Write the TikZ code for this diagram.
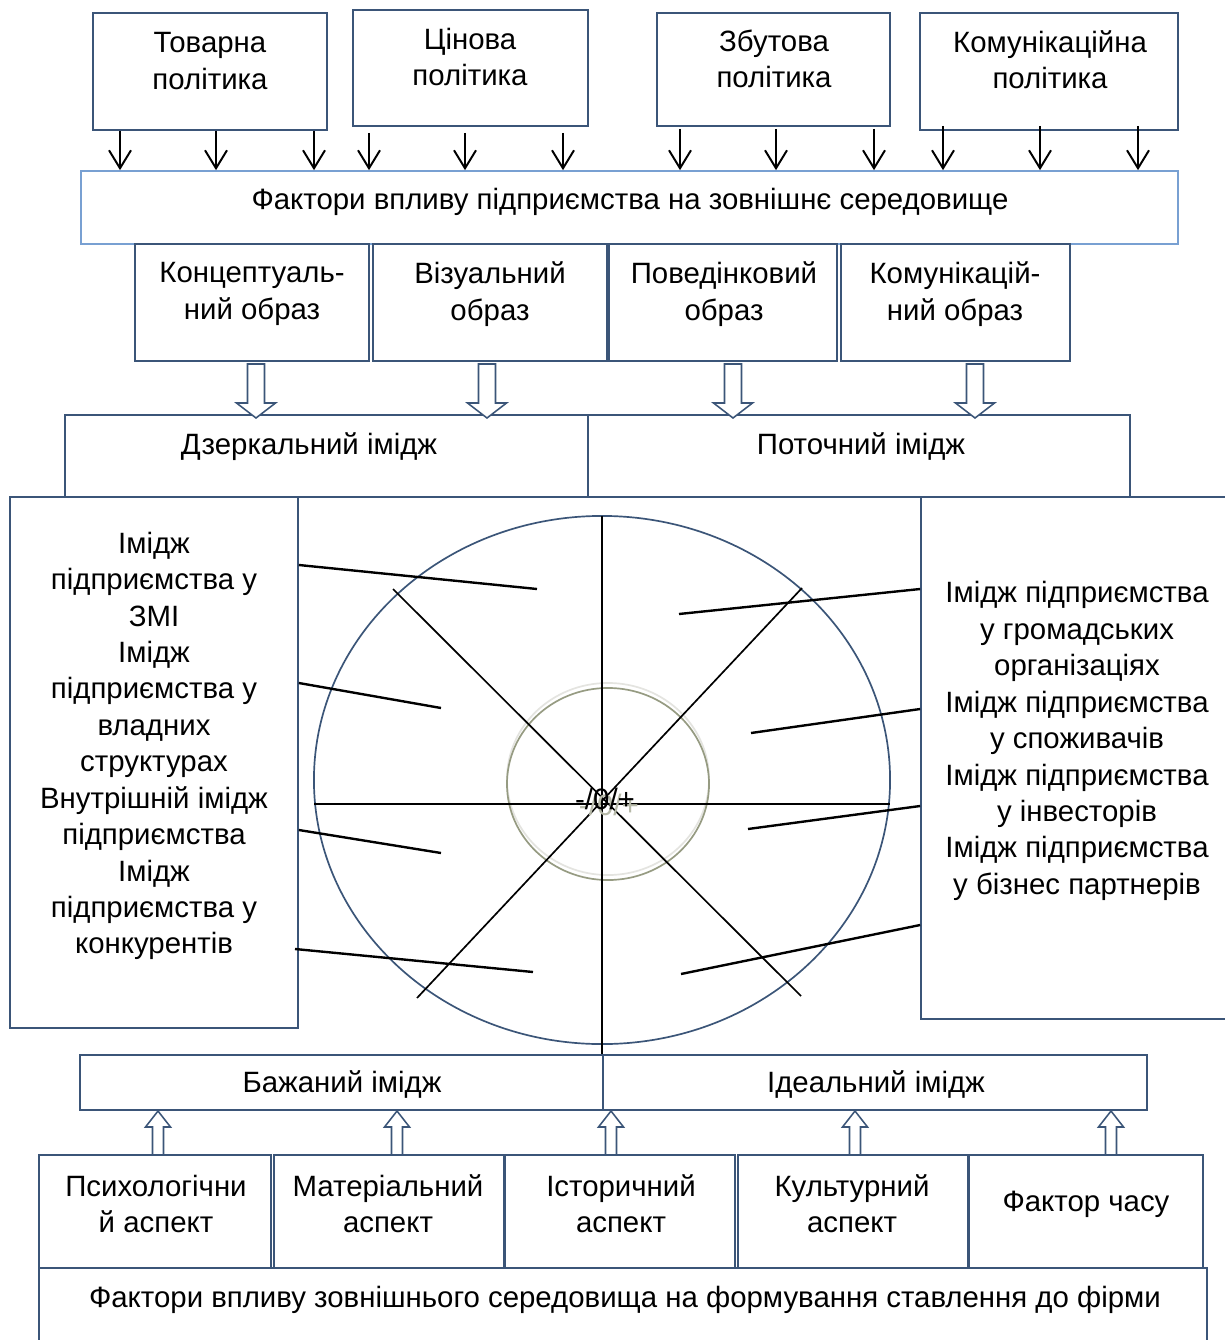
\documentclass[tikz,border=0pt]{standalone}
\usepackage{fontspec}
\setmainfont{Liberation Sans}
\usetikzlibrary{arrows.meta,fit,calc}
\definecolor{bx}{RGB}{59,85,120}
\definecolor{lbl}{RGB}{120,160,210}
\definecolor{olv}{RGB}{150,155,130}
\definecolor{lgr}{RGB}{228,228,224}
\tikzset{
  box/.style={draw=bx, line width=1.2pt, inner sep=0pt},
  txt/.style={align=center, inner sep=0pt, font=\fontsize{20.9}{25.9}\selectfont},
  tarr/.style={line width=1.4pt, -{Straight Barb[length=0.45cm,width=0.55cm,line width=1.4pt]}},
  lnk/.style={line width=1.7pt},
  axl/.style={line width=1.2pt},
  dnblk/.pic={\draw[bx, line width=1.1pt, fill=white] (-8.5,0) -- (-8.5,39) -- (-19.5,39) -- (0,54) -- (19.5,39) -- (8.5,39) -- (8.5,0) -- cycle;},
  upblk/.pic={\draw[bx, line width=1.1pt, fill=white] (-5.5,0) -- (-5.5,-28) -- (-12.5,-28) -- (0,-44) -- (12.5,-28) -- (5.5,-28) -- (5.5,0) -- cycle;}
}
\begin{document}
\begin{tikzpicture}[x=0.025cm,y=-0.025cm]
\useasboundingbox (0,0) rectangle (1224,1340);
\fill[white] (0,0) rectangle (1224,1340);

% ---- circle diagram ----
\coordinate (c0) at (602,780);
\draw[bx, line width=1.2pt] (c0) ellipse [x radius=7.2cm, y radius=6.6cm];
\draw[lgr, line width=1.2pt] (608,779) ellipse [x radius=2.525cm, y radius=2.4cm];
\draw[olv, line width=1.2pt] (608,784) ellipse [x radius=2.525cm, y radius=2.4cm];
\coordinate (vt) at (602,516);
\coordinate (vb) at (602,1055);
\coordinate (hl) at (314,804);
\coordinate (hr) at (890,804);
\coordinate (d1a) at (393,589);
\coordinate (d1b) at (801,996);
\coordinate (d2a) at (417,998);
\coordinate (d2b) at (802,588);
\draw[axl] (vt) -- (vb);
\draw[axl] (hl) -- (hr);
\draw[axl] (d1a) -- (d1b);
\draw[axl] (d2a) -- (d2b);
\node[inner sep=0pt, font=\fontsize{21}{24}\selectfont] (pm) at (605,799) {\rlap{\hspace{2.8pt}\raisebox{-4.2pt}[0pt][0pt]{\textcolor{olv!70}{-/0/+}}}-/0/+};

% ---- top policy boxes ----
\node[box, fit={(93,13)(327,130)}] (tov) {};
\node[txt] (tovt) at (210,61) {Товарна\\політика};
\node[box, fit={(353,10)(588,126)}] (cin) {};
\node[txt] (cint) at (470,57) {Цінова\\політика};
\node[box, fit={(657,13)(890,126)}] (zbu) {};
\node[txt] (zbut) at (774,59) {Збутова\\політика};
\node[box, fit={(920,13)(1178,130)}] (kom) {};
\node[txt] (komt) at (1050,60) {Комунікаційна\\політика};

\node[box, draw=lbl, fit={(81,171)(1178,244)}] (fact) {};
\node[txt] (factt) at (630,202) {Фактори впливу підприємства на зовнішнє середовище};

\foreach \xx in {120,216,314} \draw[tarr] (\xx,0 |- tov.south) -- (\xx,0 |- fact.north);
\foreach \xx in {369,465,563} \draw[tarr] (\xx,133) -- (\xx,0 |- fact.north);
\foreach \xx in {680,776,874} \draw[tarr] (\xx,129) -- (\xx,0 |- fact.north);
\foreach \xx in {943,1040,1138} \draw[tarr] (\xx,126) -- (\xx,0 |- fact.north);

% ---- image boxes ----
\node[box, fit={(135,244)(369,361)}] (kon) {};
\node[txt] (kont) at (252,294) {Концептуаль-\\ний образ};
\node[box, fit={(373,244)(607,361)}] (viz) {};
\node[txt] (vizt) at (490,294) {Візуальний\\образ};
\node[box, fit={(609,244)(837,361)}] (pov) {};
\node[txt] (povt) at (724,294) {Поведінковий\\образ};
\node[box, fit={(841,244)(1070,361)}] (kmo) {};
\node[txt] (kmot) at (955,294) {Комунікацій-\\ний образ};

% ---- mirror / current ----
\node[box, fit={(65,415)(588,497)}] (dz) {};
\node[txt] (dzt) at (309,447) {Дзеркальний імідж};
\node[box, fit={(588,415)(1130,497)}] (pot) {};
\node[txt] (pott) at (861,447) {Поточний імідж};

\pic at (256,364) {dnblk};
\pic at (487,364) {dnblk};
\pic at (733,364) {dnblk};
\pic at (975,364) {dnblk};

% ---- side boxes ----
\node[box, fit={(10,497)(298,1028)}] (lbox) {};
\node[txt] (lboxt) at (154,746) {Імідж\\підприємства у\\ЗМІ\\Імідж\\підприємства у\\владних\\структурах\\Внутрішній імідж\\підприємства\\Імідж\\підприємства у\\конкурентів};
\node[box, fit={(921,497)(1232,1019)}] (rbox) {};
\node[txt] (rboxt) at (1077,741) {Імідж підприємства\\у громадських\\організаціях\\Імідж підприємства\\у споживачів\\Імідж підприємства\\у інвесторів\\Імідж підприємства\\у бізнес партнерів};

% connector lines
\coordinate (l1) at (537,589);
\coordinate (l2) at (441,708);
\coordinate (l3) at (441,853);
\coordinate (l4) at (533,972);
\coordinate (r1) at (679,614);
\coordinate (r2) at (751,733);
\coordinate (r3) at (748,829);
\coordinate (r4) at (681,974);
\draw[lnk] (lbox.east |- 0,565) -- (l1);
\draw[lnk] (lbox.east |- 0,683) -- (l2);
\draw[lnk] (lbox.east |- 0,830) -- (l3);
\draw[lnk] (295,949) -- (l4);
\draw[lnk] (rbox.west |- 0,589) -- (r1);
\draw[lnk] (rbox.west |- 0,709) -- (r2);
\draw[lnk] (rbox.west |- 0,806) -- (r3);
\draw[lnk] (rbox.west |- 0,925) -- (r4);

% ---- desired / ideal ----
\node[box, fit={(80,1055)(603,1110)}] (baz) {};
\node[txt] (bazt) at (342,1085) {Бажаний імідж};
\node[box, fit={(603,1055)(1147,1110)}] (ide) {};
\node[txt] (idet) at (876,1085) {Ідеальний імідж};

% ---- aspects ----
\node[box, fit={(39,1155)(271,1268)}] (psy) {};
\node[txt] (psyt) at (156,1204) {Психологічни\\й аспект};
\node[box, fit={(274,1155)(504,1268)}] (mat) {};
\node[txt] (matt) at (388,1204) {Матеріальний\\аспект};
\node[box, fit={(505,1155)(735,1268)}] (ist) {};
\node[txt] (istt) at (621,1204) {Історичний\\аспект};
\node[box, fit={(738,1155)(968,1268)}] (kul) {};
\node[txt] (kult) at (852,1204) {Культурний\\аспект};
\node[box, fit={(969,1155)(1203,1268)}] (fch) {};
\node[txt] (fcht) at (1086,1204) {Фактор часу};

\node[box, fit={(39,1268)(1207,1352)}] (env) {};
\node[txt] (envt) at (625,1300) {Фактори впливу зовнішнього середовища на формування ставлення до фірми};

\pic at (158,1155) {upblk};
\pic at (397,1155) {upblk};
\pic at (611,1155) {upblk};
\pic at (855,1155) {upblk};
\pic at (1111,1155) {upblk};
\end{tikzpicture}
\end{document}
